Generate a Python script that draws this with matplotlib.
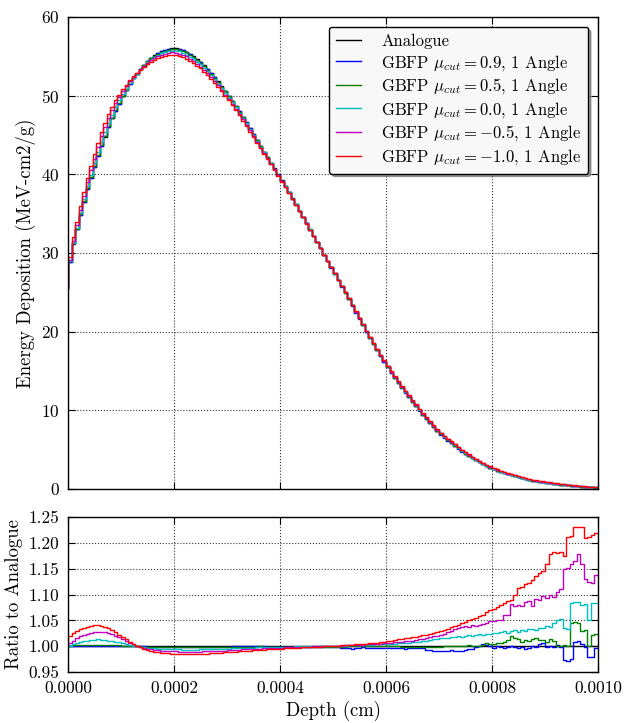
import numpy as np
import matplotlib
matplotlib.use("Agg")
import matplotlib.pyplot as plt
from matplotlib.ticker import FormatStrFormatter, MultipleLocator

plt.rcParams['font.family'] = ['cmr10', 'DejaVu Serif']
plt.rcParams['mathtext.fontset'] = 'cm'
plt.rcParams['axes.formatter.use_mathtext'] = True
plt.rcParams['font.size'] = 12

# depth grid: surface point + 150 bins over 0..0.001 cm
n_bins = 150
depth = np.linspace(0.0, 0.001, n_bins + 1)

# analogue energy deposition (MeV-cm2/g)
analogue = [
    25.5,
    28.9, 31.2, 33.0, 34.8, 36.5, 38.1, 39.5, 40.9, 42.3, 43.6,
    44.8, 46.0, 47.1, 48.1, 49.0, 49.9, 50.7, 51.5, 52.2, 52.8,
    53.4, 53.9, 54.4, 54.8, 55.15, 55.45, 55.7, 55.85, 55.95, 56.05,
    56.0, 55.95, 55.8, 55.6, 55.3, 55.0, 54.65, 54.3, 53.85, 53.4,
    52.9, 52.4, 51.8, 51.2, 50.6, 50.0, 49.35, 48.7, 48.0, 47.3,
    46.6, 45.85, 45.1, 44.35, 43.6, 42.9, 42.2, 41.5, 40.75, 40.0,
    39.25, 38.5, 37.75, 36.95, 36.2, 35.4, 34.6, 33.8, 33.0, 32.2,
    31.4, 30.6, 29.8, 29.0, 28.2, 27.4, 26.6, 25.8, 25.0, 24.2,
    23.35, 22.5, 21.7, 20.85, 20.0, 19.2, 18.45, 17.7, 16.95, 16.2,
    15.5, 14.8, 14.15, 13.5, 12.9, 12.3, 11.7, 11.1, 10.55, 10.0,
    9.45, 8.9, 8.4, 7.9, 7.4, 6.95, 6.55, 6.2, 5.85, 5.5,
    5.15, 4.8, 4.5, 4.2, 3.9, 3.65, 3.4, 3.15, 2.9, 2.7,
    2.5, 2.32, 2.15, 2.0, 1.85, 1.72, 1.6, 1.48, 1.36, 1.25,
    1.15, 1.06, 0.98, 0.91, 0.85, 0.78, 0.72, 0.66, 0.6, 0.55,
    0.5, 0.46, 0.41, 0.37, 0.33, 0.3, 0.27, 0.24, 0.21, 0.18,
]

# ratio GBFP / analogue for each mu_cut
ratio_p09 = [
    1.000,
    1.000, 1.001, 1.001, 1.001, 1.001, 1.001, 1.001, 1.001, 1.001, 1.001,
    1.001, 1.001, 1.001, 1.000, 1.000, 1.000, 1.000, 1.000, 1.000, 1.000,
    1.000, 1.000, 0.999, 0.999, 0.999, 0.999, 0.999, 0.999, 0.999, 0.999,
    0.999, 0.999, 0.999, 0.999, 0.999, 0.999, 0.999, 0.999, 0.999, 0.999,
    0.999, 0.999, 0.999, 0.999, 0.999, 0.999, 1.000, 1.000, 1.000, 1.000,
    1.000, 1.000, 1.000, 1.000, 1.000, 1.000, 0.999, 0.999, 0.999, 0.999,
    0.999, 0.999, 0.999, 0.999, 0.999, 0.999, 0.999, 0.999, 0.999, 0.999,
    0.999, 0.999, 0.998, 0.999, 0.998, 0.998, 0.998, 0.997, 0.996, 0.996,
    0.995, 0.997, 0.997, 0.998, 0.997, 0.997, 0.996, 0.997, 0.997, 0.996,
    0.997, 0.997, 0.996, 0.997, 0.997, 0.995, 0.996, 0.997, 0.997, 0.996,
    0.996, 0.993, 0.992, 0.990, 0.991, 0.991, 0.990, 0.991, 0.992, 0.991,
    0.991, 0.990, 0.993, 0.995, 0.994, 0.999, 1.000, 1.004, 1.003, 1.000,
    0.997, 1.000, 0.998, 0.996, 0.998, 1.001, 0.998, 0.997, 0.998, 0.995,
    0.996, 1.000, 0.998, 1.004, 1.006, 0.999, 1.000, 0.999, 1.002, 0.999,
    0.974, 0.972, 0.975, 1.009, 1.010, 1.004, 0.999, 0.980, 0.980, 0.997,
]
ratio_p05 = [
    1.000,
    1.001, 1.002, 1.002, 1.003, 1.003, 1.003, 1.003, 1.003, 1.003, 1.003,
    1.003, 1.003, 1.002, 1.002, 1.002, 1.001, 1.001, 1.001, 1.000, 1.000,
    1.000, 0.999, 0.999, 0.999, 0.998, 0.998, 0.998, 0.998, 0.998, 0.998,
    0.998, 0.998, 0.998, 0.998, 0.998, 0.998, 0.998, 0.998, 0.998, 0.998,
    0.998, 0.998, 0.998, 0.999, 0.999, 0.999, 0.999, 0.999, 0.999, 0.999,
    0.999, 0.999, 0.999, 0.999, 1.000, 0.999, 0.999, 0.999, 0.999, 0.999,
    0.999, 0.999, 0.999, 0.998, 0.998, 0.998, 0.998, 0.999, 0.999, 0.999,
    0.999, 0.999, 0.999, 0.999, 0.999, 0.999, 0.999, 0.999, 0.999, 1.000,
    1.000, 1.000, 1.000, 1.000, 1.001, 1.001, 1.000, 1.001, 1.001, 1.001,
    1.001, 1.001, 1.000, 1.000, 0.999, 0.998, 0.998, 0.998, 0.999, 0.998,
    0.998, 0.998, 0.998, 0.999, 0.999, 0.999, 1.000, 1.000, 1.000, 1.000,
    1.000, 1.001, 1.001, 1.002, 1.000, 1.001, 1.000, 1.003, 1.006, 1.004,
    1.005, 1.007, 1.006, 1.008, 1.012, 1.020, 1.016, 1.013, 1.008, 1.012,
    1.010, 1.013, 1.015, 1.012, 1.012, 1.008, 1.013, 1.010, 1.000, 1.001,
    1.002, 1.000, 1.045, 1.047, 1.045, 1.030, 1.032, 1.000, 1.022, 1.024,
]
ratio_00 = [
    0.997,
    1.001, 1.004, 1.006, 1.008, 1.010, 1.011, 1.012, 1.012, 1.013, 1.012,
    1.012, 1.011, 1.010, 1.009, 1.008, 1.006, 1.004, 1.003, 1.001, 1.000,
    0.999, 0.998, 0.997, 0.996, 0.996, 0.995, 0.995, 0.994, 0.994, 0.994,
    0.994, 0.994, 0.993, 0.993, 0.993, 0.993, 0.993, 0.994, 0.994, 0.994,
    0.994, 0.994, 0.995, 0.995, 0.995, 0.995, 0.996, 0.996, 0.996, 0.997,
    0.997, 0.997, 0.997, 0.998, 0.998, 0.998, 0.998, 0.998, 0.999, 0.999,
    0.999, 0.999, 0.999, 0.999, 1.000, 1.000, 1.000, 1.000, 1.000, 1.000,
    1.000, 1.000, 1.000, 1.001, 1.001, 1.001, 1.001, 1.001, 1.001, 1.002,
    1.002, 1.002, 1.002, 1.003, 1.003, 1.003, 1.003, 1.004, 1.004, 1.004,
    1.005, 1.005, 1.005, 1.006, 1.006, 1.007, 1.007, 1.008, 1.008, 1.009,
    1.010, 1.011, 1.012, 1.013, 1.014, 1.015, 1.015, 1.016, 1.017, 1.018,
    1.019, 1.018, 1.020, 1.021, 1.020, 1.022, 1.023, 1.022, 1.024, 1.024,
    1.025, 1.026, 1.027, 1.029, 1.026, 1.030, 1.032, 1.028, 1.031, 1.030,
    1.033, 1.034, 1.031, 1.036, 1.035, 1.040, 1.038, 1.045, 1.050, 1.052,
    1.036, 1.034, 1.083, 1.086, 1.085, 1.080, 1.082, 1.050, 1.083, 1.084,
]
ratio_m05 = [
    1.000,
    1.006, 1.011, 1.015, 1.019, 1.022, 1.024, 1.026, 1.027, 1.028, 1.028,
    1.027, 1.025, 1.023, 1.020, 1.017, 1.013, 1.010, 1.007, 1.004, 1.001,
    0.999, 0.997, 0.995, 0.994, 0.993, 0.992, 0.991, 0.991, 0.990, 0.990,
    0.990, 0.989, 0.989, 0.989, 0.989, 0.989, 0.989, 0.989, 0.990, 0.990,
    0.990, 0.990, 0.991, 0.991, 0.991, 0.992, 0.992, 0.993, 0.993, 0.994,
    0.994, 0.994, 0.995, 0.995, 0.995, 0.996, 0.996, 0.996, 0.997, 0.997,
    0.997, 0.998, 0.998, 0.998, 0.998, 0.999, 0.999, 0.999, 0.999, 1.000,
    1.000, 1.000, 1.000, 1.000, 1.001, 1.001, 1.001, 1.001, 1.002, 1.002,
    1.002, 1.002, 1.003, 1.003, 1.004, 1.004, 1.004, 1.005, 1.005, 1.006,
    1.006, 1.007, 1.008, 1.008, 1.009, 1.010, 1.010, 1.011, 1.012, 1.013,
    1.014, 1.015, 1.017, 1.019, 1.020, 1.022, 1.024, 1.027, 1.030, 1.033,
    1.036, 1.038, 1.040, 1.038, 1.041, 1.040, 1.041, 1.042, 1.045, 1.049,
    1.048, 1.051, 1.050, 1.061, 1.060, 1.082, 1.078, 1.080, 1.077, 1.085,
    1.088, 1.078, 1.092, 1.089, 1.097, 1.093, 1.100, 1.096, 1.105, 1.110,
    1.150, 1.152, 1.160, 1.165, 1.178, 1.160, 1.130, 1.125, 1.122, 1.138,
]
ratio_m10 = [
    1.010,
    1.020, 1.025, 1.029, 1.033, 1.036, 1.038, 1.040, 1.041, 1.041, 1.040,
    1.038, 1.035, 1.031, 1.027, 1.022, 1.018, 1.013, 1.009, 1.005, 1.001,
    0.998, 0.995, 0.993, 0.991, 0.989, 0.988, 0.987, 0.986, 0.986, 0.985,
    0.985, 0.984, 0.985, 0.984, 0.984, 0.985, 0.984, 0.985, 0.985, 0.985,
    0.986, 0.986, 0.987, 0.987, 0.988, 0.988, 0.989, 0.989, 0.990, 0.990,
    0.991, 0.991, 0.992, 0.992, 0.993, 0.993, 0.994, 0.994, 0.994, 0.995,
    0.995, 0.996, 0.996, 0.997, 0.997, 0.997, 0.998, 0.998, 0.998, 0.999,
    0.999, 0.999, 1.000, 1.000, 1.000, 1.001, 1.001, 1.002, 1.002, 1.003,
    1.003, 1.004, 1.004, 1.005, 1.005, 1.006, 1.007, 1.007, 1.008, 1.009,
    1.010, 1.011, 1.012, 1.013, 1.013, 1.015, 1.016, 1.017, 1.018, 1.019,
    1.021, 1.022, 1.023, 1.025, 1.028, 1.029, 1.031, 1.033, 1.037, 1.039,
    1.041, 1.044, 1.046, 1.050, 1.052, 1.055, 1.058, 1.060, 1.066, 1.071,
    1.072, 1.076, 1.079, 1.083, 1.087, 1.090, 1.100, 1.112, 1.115, 1.120,
    1.123, 1.128, 1.136, 1.142, 1.145, 1.160, 1.178, 1.182, 1.180, 1.182,
    1.175, 1.212, 1.213, 1.230, 1.230, 1.230, 1.210, 1.212, 1.216, 1.220,
]

labels = ["Analogue",
          r"GBFP $\mu_{cut} = 0.9$, 1 Angle",
          r"GBFP $\mu_{cut} = 0.5$, 1 Angle",
          r"GBFP $\mu_{cut} = 0.0$, 1 Angle",
          r"GBFP $\mu_{cut} = -0.5$, 1 Angle",
          r"GBFP $\mu_{cut} = -1.0$, 1 Angle"]
colors = ['k', (0, 0, 1), (0, 0.5, 0), (0, 0.75, 0.75), (0.75, 0, 0.75), (1, 0, 0)]
ratios = [np.ones(n_bins + 1), ratio_p09, ratio_p05, ratio_00, ratio_m05, ratio_m10]

fig = plt.figure(figsize=(6.26, 7.23), dpi=100)
ax1 = fig.add_axes([0.1086, 0.3237, 0.8467, 0.6528])
ax2 = fig.add_axes([0.1086, 0.0705, 0.8467, 0.2144], sharex=ax1)

analogue = np.array(analogue)
for lab, col, rat in zip(labels, colors, ratios):
    rat = np.array(rat)
    ax1.plot(depth, analogue * rat, drawstyle='steps', color=col, lw=1.0, label=lab)
    ax2.plot(depth, rat, drawstyle='steps', color=col, lw=1.0)

for ax in (ax1, ax2):
    ax.grid(True, color='k', linestyle=':', linewidth=0.8, alpha=0.8)
    ax.tick_params(direction='in', top=True, right=True, length=5, width=0.8,
                   pad=6, labelsize=12.5)
    for sp in ax.spines.values():
        sp.set_linewidth(1.0)

ax1.set_xlim(0, 0.001)
ax1.set_ylim(0, 60)
ax1.yaxis.set_major_locator(MultipleLocator(10))
ax1.tick_params(labelbottom=False)
ax1.set_ylabel("Energy Deposition (MeV-cm2/g)", fontsize=13.5)

ax2.set_ylim(0.95, 1.25)
ax2.yaxis.set_major_locator(MultipleLocator(0.05))
ax2.yaxis.set_major_formatter(FormatStrFormatter('%.2f'))
ax2.xaxis.set_major_locator(MultipleLocator(0.0002))
ax2.xaxis.set_major_formatter(FormatStrFormatter('%.4f'))
ax2.set_xlabel("Depth (cm)", fontsize=13.5)
ax2.set_ylabel("Ratio to Analogue", fontsize=13.5)

leg = ax1.legend(loc='upper right', fontsize=12, shadow=True, fancybox=True,
                 handlelength=1.5, handletextpad=1.2, labelspacing=0.22,
                 borderpad=0.4, framealpha=1.0, borderaxespad=0.6)
leg.get_frame().set_facecolor('#f8f8f8')
leg.get_frame().set_edgecolor('k')
leg.get_frame().set_boxstyle('round,pad=0.0,rounding_size=0.15')

fig.savefig("out.png", dpi=100)
